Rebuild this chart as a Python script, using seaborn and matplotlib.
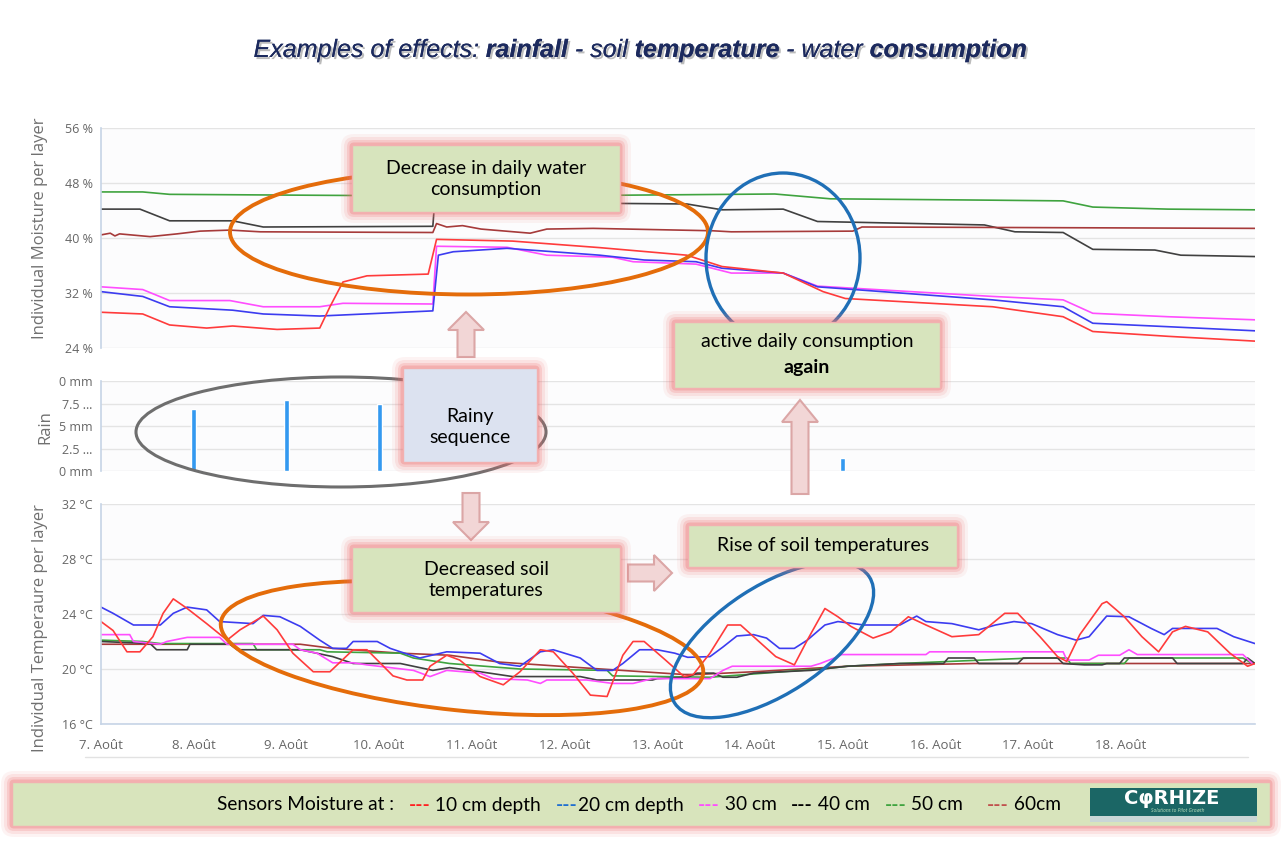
# soil_sensors_chart.py
import matplotlib
matplotlib.use("Agg")
import matplotlib.pyplot as plt
import matplotlib.patches as mpatches
import matplotlib.patheffects as pe
import seaborn as sns

# ---- moisture per layer (%), day 0 = 7 Aout ----
moist_10_day = [0, 0.45, 0.74, 1.14, 1.42, 1.90, 2.36, 2.47, 2.61, 2.87, 3.53, 3.62, 4.44, 5.38,
                6.32, 6.70, 7.36, 7.79, 8.03, 9.62, 10.38, 10.70, 11.51, 12.45]
moist_10_val = [29.2, 28.95, 27.35, 26.9, 27.2, 26.7, 26.9, 30.0, 33.6, 34.5, 34.75, 39.8, 39.55, 38.6,
                37.5, 35.85, 34.9, 32.2, 31.2, 30.0, 28.55, 26.4, 25.7, 25.0]
moist_20_day = [0, 0.45, 0.74, 1.42, 1.75, 2.36, 3.58, 3.64, 3.80, 4.38, 5.38, 5.86, 6.42, 6.70,
                7.36, 7.73, 9.62, 10.38, 10.70, 11.51, 12.45]
moist_20_val = [32.2, 31.5, 30.0, 29.5, 28.95, 28.65, 29.4, 37.5, 38.0, 38.5, 37.5, 36.8, 36.55, 35.6,
                34.9, 32.9, 31.0, 30.0, 27.6, 27.1, 26.5]
moist_30_day = [0, 0.45, 0.74, 1.39, 1.75, 2.36, 2.61, 3.58, 3.62, 4.38, 4.81, 5.52, 5.74, 6.42,
                6.80, 7.36, 7.73, 9.62, 10.38, 10.70, 11.51, 12.45]
moist_30_val = [32.9, 32.5, 30.9, 30.9, 30.0, 30.0, 30.5, 30.4, 38.8, 38.65, 37.5, 37.2, 36.55, 36.2,
                34.9, 34.9, 33.0, 31.5, 31.0, 29.05, 28.55, 28.1]
moist_40_day = [0, 0.42, 0.74, 1.42, 1.75, 3.58, 3.60, 4.5, 5.38, 6.32, 6.70, 7.36, 7.73, 9.53,
                9.86, 10.38, 10.70, 11.37, 11.65, 12.45]
moist_40_val = [44.2, 44.2, 42.5, 42.5, 41.6, 41.7, 45.3, 45.2, 45.05, 44.95, 44.1, 44.2, 42.4, 41.9,
                40.9, 40.8, 38.35, 38.25, 37.5, 37.3]
moist_50_day = [0, 0.45, 0.74, 2.5, 4.0, 5.38, 7.27, 7.87, 9.62, 10.38, 10.70, 11.51, 12.45]
moist_50_val = [46.7, 46.7, 46.35, 46.2, 46.1, 46.2, 46.4, 45.7, 45.5, 45.4, 44.5, 44.2, 44.1]
moist_60_day = [0, 0.1, 0.15, 0.2, 0.53, 0.82, 1.07, 1.39, 1.72, 3.58, 3.62, 3.73, 3.9, 4.1,
                4.63, 4.81, 5.31, 6.60, 6.80, 8.11, 8.21, 12.45]
moist_60_val = [40.45, 40.7, 40.3, 40.6, 40.2, 40.6, 41.0, 41.15, 40.9, 40.8, 42.1, 41.6, 41.8, 41.3,
                40.7, 41.3, 41.4, 41.05, 40.9, 41.0, 41.6, 41.4]

# ---- rain (mm) ----
rain_day = [1.0, 2.0, 3.0, 8.0]
rain_mm = [6.9, 7.9, 7.4, 1.4]

# ---- soil temperature per layer (degC) ----
temp_10_day = [0.00, 0.13, 0.28, 0.42, 0.56, 0.67, 0.78, 0.93, 1.14, 1.36, 1.50, 1.75, 1.90, 2.07,
               2.29, 2.47, 2.72, 2.87, 3.15, 3.30, 3.47, 3.55, 3.73, 3.87, 4.09, 4.34, 4.52, 4.74,
               4.88, 5.09, 5.28, 5.46, 5.63, 5.74, 5.86, 6.09, 6.29, 6.39, 6.57, 6.76, 6.90, 7.28,
               7.48, 7.62, 7.81, 7.95, 8.09, 8.33, 8.52, 8.71, 8.90, 9.18, 9.47, 9.75, 9.89, 10.13,
               10.32, 10.42, 10.56, 10.80, 10.85, 11.04, 11.23, 11.41, 11.56, 11.70, 11.94, 12.18,
               12.37, 12.45]
temp_10_val = [23.45, 22.8, 21.25, 21.25, 22.35, 24.05, 25.1, 24.4, 23.3, 22.1, 22.85, 23.85, 22.85, 21.15,
               19.8, 19.8, 21.4, 21.4, 19.5, 19.2, 19.2, 20.2, 21.0, 20.65, 19.45, 18.85, 19.8, 21.4,
               21.25, 19.7, 18.1, 18.0, 21.0, 22.0, 22.0, 20.65, 19.45, 19.6, 21.15, 23.2, 23.2, 20.9,
               20.3, 22.1, 24.4, 23.8, 23.1, 22.25, 22.7, 23.8, 23.2, 22.35, 22.5, 24.05, 24.05, 22.35,
               20.9, 20.55, 22.5, 24.75, 24.9, 23.8, 22.35, 21.25, 22.7, 23.1, 22.7, 21.15,
               20.2, 20.4]
temp_20_day = [0.00, 0.13, 0.35, 0.64, 0.78, 0.93, 1.14, 1.28, 1.64, 1.75, 1.93, 2.15, 2.36, 2.50,
               2.65, 2.72, 2.98, 3.12, 3.23, 3.44, 3.73, 4.09, 4.30, 4.52, 4.74, 4.88, 5.17, 5.35,
               5.52, 5.63, 5.81, 6.00, 6.19, 6.33, 6.57, 6.71, 6.86, 7.04, 7.18, 7.32, 7.48, 7.62,
               7.81, 7.95, 8.23, 8.62, 8.80, 8.90, 9.18, 9.47, 9.65, 9.85, 10.04, 10.32, 10.52, 10.66,
               10.85, 11.09, 11.33, 11.47, 11.56, 12.04, 12.22, 12.45]
temp_20_val = [24.5, 24.05, 23.2, 23.2, 24.05, 24.5, 24.3, 23.45, 23.3, 23.9, 23.8, 23.1, 22.1, 21.5,
               21.5, 22.0, 22.0, 21.5, 21.25, 20.8, 21.25, 21.15, 20.4, 20.2, 21.25, 21.4, 20.8, 19.9,
               19.9, 20.4, 21.4, 21.4, 21.15, 20.85, 20.9, 21.6, 22.4, 22.5, 22.25, 21.5, 21.5, 22.1,
               23.2, 23.45, 23.2, 23.2, 23.85, 23.45, 23.3, 22.85, 23.2, 23.45, 23.3, 22.5, 22.1, 22.35,
               23.85, 23.8, 22.95, 22.5, 22.95, 22.95, 22.35, 21.85]
temp_30_day = [0.00, 0.31, 0.35, 0.64, 0.71, 0.93, 1.28, 1.36, 2.07, 2.15, 2.33, 2.50, 2.72, 2.87,
               3.37, 3.55, 3.73, 4.09, 4.23, 4.60, 4.74, 4.81, 5.24, 5.52, 5.74, 5.95, 6.57, 6.71,
               6.81, 7.66, 7.76, 7.95, 7.99, 8.90, 8.94, 10.38, 10.42, 10.66, 10.76, 10.99, 11.09,
               11.18, 12.32, 12.42]
temp_30_val = [22.5, 22.5, 22.0, 21.8, 22.0, 22.3, 22.3, 21.8, 21.8, 21.4, 21.15, 20.45, 20.45, 20.3,
               19.9, 19.45, 19.9, 19.7, 19.3, 19.2, 18.95, 19.2, 19.2, 18.95, 18.95, 19.3, 19.3, 19.9,
               20.2, 20.2, 20.4, 20.9, 21.05, 21.05, 21.25, 21.25, 20.65, 20.65, 21.0, 21.0, 21.4,
               21.05, 21.05, 20.4]
temp_40_day = [0.00, 0.53, 0.60, 0.93, 0.96, 1.39, 1.47, 2.15, 2.50, 2.72, 3.23, 3.37, 3.58, 3.76,
               4.09, 4.44, 5.17, 5.35, 5.95, 6.00, 6.33, 6.43, 6.61, 6.71, 6.86, 7.04, 7.66, 8.05,
               8.33, 8.62, 9.09, 9.14, 9.42, 9.47, 9.89, 9.95, 10.32, 10.38, 10.61, 10.80, 10.85,
               10.99, 11.04, 11.56, 11.61, 12.32, 12.37, 12.45]
temp_40_val = [22.0, 21.85, 21.4, 21.4, 21.8, 21.8, 21.4, 21.4, 20.9, 20.4, 20.4, 20.2, 19.9, 20.1,
               19.8, 19.45, 19.45, 19.2, 19.2, 19.3, 19.4, 19.7, 19.7, 19.4, 19.4, 19.7, 19.9, 20.2,
               20.3, 20.4, 20.4, 20.8, 20.8, 20.4, 20.4, 20.8, 20.8, 20.4, 20.3, 20.3, 20.4,
               20.4, 20.8, 20.8, 20.4, 20.4, 20.8, 20.4]
temp_50_day = [0.00, 0.45, 0.64, 1.64, 1.68, 2.36, 2.44, 3.23, 3.37, 3.76, 4.52, 5.46, 5.52, 6.57,
               7.85, 8.05, 8.33, 8.62, 10.04, 10.42, 10.46, 11.04, 11.09, 12.32, 12.42]
temp_50_val = [22.1, 22.0, 21.85, 21.85, 21.4, 21.4, 21.25, 21.15, 20.8, 20.4, 20.0, 19.9, 19.5, 19.4,
               20.05, 20.2, 20.3, 20.4, 20.8, 20.8, 20.4, 20.4, 20.8, 20.8, 20.4]
temp_60_day = [0.00, 2.15, 2.50, 3.23, 3.76, 4.30, 5.17, 6.29, 6.43, 7.04, 8.05, 9.42, 12.45]
temp_60_val = [21.8, 21.8, 21.5, 21.15, 21.0, 20.5, 20.1, 19.6, 19.6, 19.8, 20.2, 20.4, 20.4]

# ---- axis and legend text ----
moist_ticks = [24, 32, 40, 48, 56]
moist_labels = ["24 %", "32 %", "40 %", "48 %", "56 %"]
rain_ticks = [0, 2.5, 5, 7.5, 10]
rain_labels = ["0 mm", "2.5 …", "5 mm", "7.5 …", "0 mm"]
temp_ticks = [16, 20, 24, 28, 32]
temp_labels = ["16 °C", "20 °C", "24 °C", "28 °C", "32 °C"]
day_labels = ["7. Août", "8. Août", "9. Août", "10. Août", "11. Août", "12. Août",
              "13. Août", "14. Août", "15. Août", "16. Août", "17. Août", "18. Août"]
sensor_labels = [" 10 cm depth   ", "20 cm depth   ", " 30 cm   ", " 40 cm   ", " 50 cm     ", " 60cm"]

W, H = 1286, 841
C10, C20, C30, C40, C50, C60 = "#ff3b3b", "#3c3cf0", "#ff4dff", "#404040", "#3fa33f", "#a63a3a"
LEGEND_DASH = ["#ff2020", "#1f6fd0", "#ff4dff", "black", "#3fa33f", "#c0504d"]


def px_axes(fig, left, top, right, bottom):
    """Axes placed with pixel edges (y measured from the top)."""
    return fig.add_axes([left / W, 1 - bottom / H, (right - left) / W, (bottom - top) / H])


def style_panel(ax, ticks, labels):
    ax.set_facecolor("#fcfcfd")
    ax.set_xlim(0, 12.45)
    ax.set_ylim(ticks[0], ticks[-1])
    ax.set_yticks(ticks)
    ax.set_yticklabels(labels)
    ax.grid(axis="y", color="#e4e4e4", lw=1)
    ax.grid(axis="x", visible=False)
    for s in ["top", "right", "bottom"]:
        ax.spines[s].set_visible(False)
    ax.spines["left"].set_color("#c6d4e6")
    ax.spines["left"].set_linewidth(1.2)
    ax.tick_params(axis="y", length=0, pad=6, labelsize=9, labelcolor="#666666")
    ax.set_xlabel("")
    ax.set_ylabel("")


def add_series(ax, days, vals, color):
    sns.lineplot(x=days, y=vals, ax=ax, color=color, linewidth=1.2, sort=False, estimator=None)


def glow_box(ax, x0, y0, x1, y1, fc):
    """Box with the soft red glow around it."""
    for pad, a in [(11, 0.08), (8, 0.13), (5, 0.2), (2.5, 0.3)]:
        ax.add_patch(mpatches.FancyBboxPatch(
            (x0 - pad, y0 - pad), x1 - x0 + 2 * pad, y1 - y0 + 2 * pad,
            boxstyle=f"round,pad=0,rounding_size={pad + 2}", fc="#ee7070", ec="none", alpha=a))
    ax.add_patch(mpatches.Rectangle((x0, y0), x1 - x0, y1 - y0, fc=fc, ec="#f2b0b0", lw=1))


def block_arrow(ax, x, y, dx, dy, length_head=18):
    ax.add_patch(mpatches.FancyArrow(x, y, dx, dy, width=17, head_width=36, head_length=length_head,
                                     length_includes_head=True, fc="#f2d6d6", ec="#dba6a6", lw=1.5))


def draw_runs(ax, runs, x, y, size, fit=None, ha="left", **common):
    """Draw text pieces one after another, optionally scaled to a target width."""
    renderer = ax.figure.canvas.get_renderer()

    def width(s, sz, kw):
        t = ax.text(0, 0, "|" + s + "|", fontsize=sz, **common, **kw)
        t2 = ax.text(0, 0, "||", fontsize=sz, **common, **kw)
        w = t.get_window_extent(renderer).width - t2.get_window_extent(renderer).width
        t.remove()
        t2.remove()
        return w

    ws = [width(s, size, kw) for s, kw in runs]
    if fit:
        size = size * fit / sum(ws)
        ws = [width(s, size, kw) for s, kw in runs]
    start = x - sum(ws) / 2 if ha == "center" else x
    for (s, kw), w in zip(runs, ws):
        ax.text(start, y, s, fontsize=size, va="center", ha="left", **common, **kw)
        start += w


sns.set_style("white")
plt.rcParams["font.family"] = ["Open Sans", "DejaVu Sans"]

fig = plt.figure(figsize=(W / 100, H / 100), dpi=100)
fig.patch.set_facecolor("white")

# moisture panel
ax_m = px_axes(fig, 101, 128, 1255, 348)
add_series(ax_m, moist_50_day, moist_50_val, C50)
add_series(ax_m, moist_40_day, moist_40_val, C40)
add_series(ax_m, moist_60_day, moist_60_val, C60)
add_series(ax_m, moist_30_day, moist_30_val, C30)
add_series(ax_m, moist_20_day, moist_20_val, C20)
add_series(ax_m, moist_10_day, moist_10_val, C10)
style_panel(ax_m, moist_ticks, moist_labels)
ax_m.set_xticks([])

# rain panel
ax_r = px_axes(fig, 101, 381, 1255, 471)
ax_r.bar(rain_day, rain_mm, width=0.055, color="#3399f0")
style_panel(ax_r, rain_ticks, rain_labels)
ax_r.set_xticks([])

# temperature panel
ax_t = px_axes(fig, 101, 504, 1255, 724)
add_series(ax_t, temp_60_day, temp_60_val, C60)
add_series(ax_t, temp_50_day, temp_50_val, C50)
add_series(ax_t, temp_40_day, temp_40_val, C40)
add_series(ax_t, temp_30_day, temp_30_val, C30)
add_series(ax_t, temp_20_day, temp_20_val, C20)
add_series(ax_t, temp_10_day, temp_10_val, C10)
style_panel(ax_t, temp_ticks, temp_labels)
ax_t.spines["bottom"].set_visible(True)
ax_t.spines["bottom"].set_color("#c6d4e6")
ax_t.spines["bottom"].set_linewidth(1.2)
ax_t.set_xticks(range(len(day_labels)))
ax_t.set_xticklabels(day_labels)
ax_t.tick_params(axis="x", length=5, color="#c6d4e6", labelsize=9.5, labelcolor="#666666", pad=6)

# overlay in pixel coordinates for annotations
ov = fig.add_axes([0, 0, 1, 1], zorder=10)
ov.set_xlim(0, W)
ov.set_ylim(H, 0)
ov.set_axis_off()

ov.plot([85, 1248], [757, 757], color="#e2e2e2", lw=1)

label_kw = dict(rotation=90, ha="center", va="center", fontsize=12, color="#707070")
ov.text(40, 228, "Individual Moisture per layer", **label_kw)
ov.text(45, 427, "Rain", **label_kw)
ov.text(40, 628, "Individual Temperaure per layer", **label_kw)

# title
navy = dict(color="#1c2a5e", family="Liberation Sans", style="italic",
            path_effects=[pe.withSimplePatchShadow(offset=(1.5, -1.5), shadow_rgbFace="#909090", alpha=0.6),
                          pe.Normal()])
title_runs = [("Examples of effects: ", {}), ("rainfall", {"weight": "bold"}), (" - soil ", {}),
              ("temperature", {"weight": "bold"}), (" - water ", {}), ("consumption", {"weight": "bold"})]
draw_runs(ov, title_runs, 640, 50, 16, fit=774, ha="center", **navy)

# ellipses
ov.add_patch(mpatches.Ellipse((469, 232), 478, 125, fill=False, ec="#e46c0a", lw=2.8))
ov.add_patch(mpatches.Ellipse((783, 258), 154, 170, fill=False, ec="#1f6fb6", lw=2.4))
ov.add_patch(mpatches.Ellipse((341, 432), 410, 110, fill=False, ec="#6e6e6e", lw=2.2))
ov.add_patch(mpatches.Ellipse((462, 648), 485, 125, angle=6, fill=False, ec="#e46c0a", lw=2.8))
ov.add_patch(mpatches.Ellipse((772, 640), 232, 108, angle=-33, fill=False, ec="#1f6fb6", lw=2.4))

# arrows
block_arrow(ov, 466, 357, 0, -45)
block_arrow(ov, 471, 493, 0, 47)
block_arrow(ov, 628, 573, 44, 0)
block_arrow(ov, 800, 494, 0, -94, length_head=22)

# boxes
box_font = dict(family=["Lato", "DejaVu Sans"], fontsize=14, color="black", ha="center", va="center",
                linespacing=1.35)
glow_box(ov, 352, 145, 620, 212, "#d7e4bd")
ov.text(486, 179, "Decrease in daily water\nconsumption", **box_font)
glow_box(ov, 403, 368, 537, 462, "#dce2f0")
ov.text(470, 427, "Rainy\nsequence", **box_font)
glow_box(ov, 674, 322, 940, 388, "#d7e4bd")
ov.text(807, 341, "active daily consumption", **box_font)
ov.text(807, 367, "again", weight="bold", **box_font)
glow_box(ov, 352, 547, 620, 612, "#d7e4bd")
ov.text(486, 580, "Decreased soil\ntemperatures", **box_font)
glow_box(ov, 688, 525, 957, 567, "#d7e4bd")
ov.text(823, 545, "Rise of soil temperatures", **box_font)

# legend strip
glow_box(ov, 12, 782, 1270, 826, "#d8e4bc")
leg_runs = [("Sensors Moisture at :   ", {"color": "black"})]
for dash_color, label in zip(LEGEND_DASH, sensor_labels):
    leg_runs.append(("---", {"color": dash_color, "weight": "bold"}))
    leg_runs.append((label, {"color": "black"}))
draw_runs(ov, leg_runs, 217, 805, 14, fit=845, family=["Lato", "DejaVu Sans"])

# logo
ov.add_patch(mpatches.Rectangle((1090, 788), 167, 34, fc="#1b6665", ec="none"))
ov.add_patch(mpatches.Rectangle((1090, 816), 167, 6, fc="#c9d6d6", ec="none"))
ov.text(1172, 799, "CφRHIZE", color="white", weight="bold", fontsize=14, ha="center", va="center",
        family=["DejaVu Sans"])
ov.text(1178, 811, "Solutions to Pilot Growth", color="#bfe3bf", fontsize=3.5, style="italic",
        ha="center", va="center")

fig.savefig("out.png", dpi=100, facecolor="white")
